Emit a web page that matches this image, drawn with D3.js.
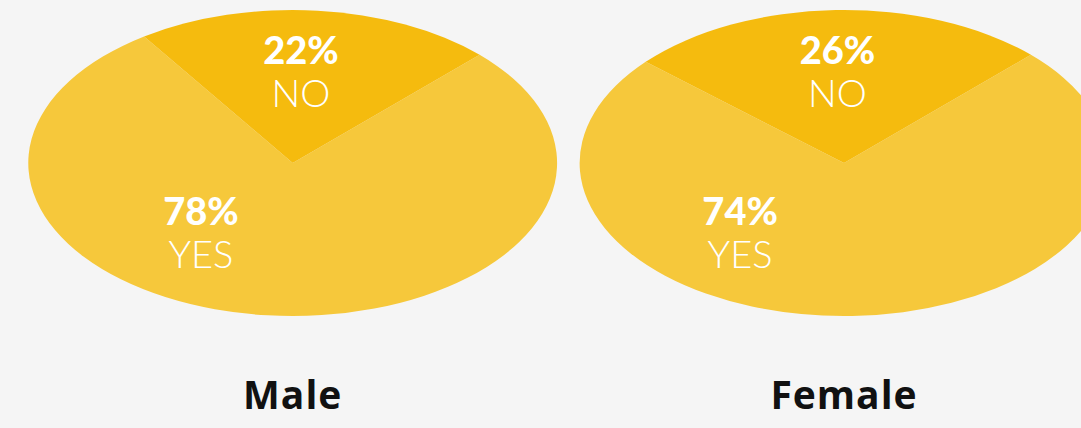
<!DOCTYPE html>
<html><head><meta charset="utf-8">
<script src="https://cdn.jsdelivr.net/npm/d3@7"></script>
<style>
html,body{margin:0;padding:0;background:#f5f5f5;overflow:hidden}
svg{display:block}
</style></head>
<body>
<svg id="chart" width="1081" height="428"></svg>
<script>
// ---- data ----
const groups = ["Male", "Female"];
const answers = ["YES", "NO"];
const yesValues = [78, 74];
const noValues = [22, 26];
const colors = ["#f6c83b", "#f5bb0e"];

// ---- layout ----
const W = 1081, H = 428;
const rx = 264.4, ry = 153;
const cy = 163;
const centersX = d3.scalePoint().domain(groups).range([292.7, 844]);
// label anchors in unit-ellipse coordinates (layout only), per answer and group index
const labelAnchors = {
  YES: [[-0.347, 0.451], [-0.393, 0.451]],
  NO: [[0.031, -0.601], [-0.025, -0.601]]
};

const svg = d3.select("#chart");
svg.append("rect").attr("width", W).attr("height", H).attr("fill", "#f5f5f5");

const pie = d3.pie().sort(null).value(d => d.value)
  .startAngle(Math.PI / 4).endAngle(Math.PI / 4 + 2 * Math.PI);
const arc = d3.arc().innerRadius(0).outerRadius(1);
const color = d3.scaleOrdinal().domain(answers).range(colors);

groups.forEach((g, gi) => {
  const data = [
    { answer: "YES", value: yesValues[gi] },
    { answer: "NO", value: noValues[gi] }
  ];
  const arcs = pie(data);
  const cx = centersX(g);
  const gEl = svg.append("g").attr("transform", `translate(${cx},${cy})`);
  const slices = gEl.append("g").attr("transform", `scale(${rx},${ry})`);
  slices.selectAll("path").data(arcs).join("path")
    .attr("d", arc)
    .attr("fill", d => color(d.data.answer));

  arcs.forEach(a => {
    const [ux, uy] = labelAnchors[a.data.answer][gi];
    const x = ux * rx;
    const y = uy * ry;
    const t = gEl.append("text")
      .attr("text-anchor", "middle")
      .attr("fill", "#ffffff")
      .attr("font-family", "Lato, 'Open Sans', sans-serif")
      .attr("font-size", 38);
    t.append("tspan").attr("x", x).attr("y", y - 7)
      .attr("font-weight", 900).text(a.data.value + "%");
    t.append("tspan").attr("x", x).attr("y", y + 36)
      .attr("font-weight", 300).text(a.data.answer);
  });

  svg.append("text")
    .attr("x", cx).attr("y", 409)
    .attr("text-anchor", "middle")
    .attr("font-family", "'Open Sans', Lato, sans-serif")
    .attr("font-weight", 700)
    .attr("font-size", 39)
    .attr("letter-spacing", 1)
    .attr("fill", "#111111")
    .text(g);
});
</script>
</body></html>
